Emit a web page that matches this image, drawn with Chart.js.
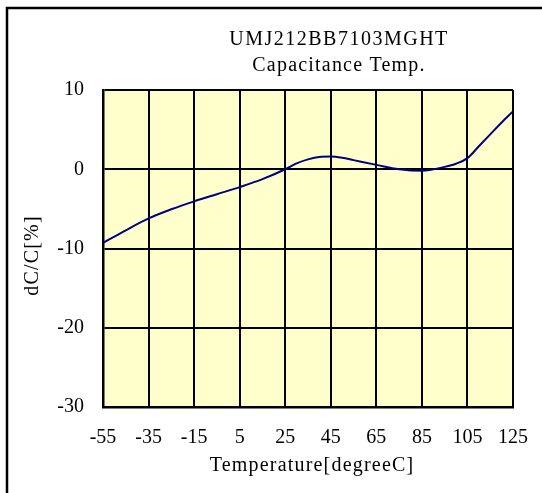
<!DOCTYPE html>
<html>
<head>
<meta charset="utf-8">
<script src="https://cdn.jsdelivr.net/npm/chart.js@4/dist/chart.umd.min.js"></script>
<style>
  html, body { margin: 0; padding: 0; background: #fff; }
  #wrap { width: 542px; height: 493px; position: relative; }
</style>
</head>
<body>
<div id="wrap"><canvas id="c" width="542" height="493"></canvas></div>
<script>
const titleLines = ["UMJ212BB7103MGHT", "Capacitance Temp."];
const xTitle = "Temperature[degreeC]";
const yTitle = "dC/C[%]";
const xTicks = [-55, -35, -15, 5, 25, 45, 65, 85, 105, 125];
const yTicks = [-30, -20, -10, 0, 10];
const temps = [-55, -45, -35, -25, -15, -5, 5, 15, 25, 30, 35, 40, 45, 50, 55, 65, 75, 85, 95, 100, 105, 110, 115, 120, 125];
const dcc =   [-9.3, -7.7, -6.2, -5.05, -4.05, -3.15, -2.25, -1.25, 0, 0.75, 1.25, 1.55, 1.6, 1.45, 1.15, 0.55, 0.0, -0.2, 0.3, 0.7, 1.4, 2.9, 4.4, 5.9, 7.3];

const FONT = "'Liberation Serif', 'Times New Roman', serif";

const framePlugin = {
  id: 'frame',
  beforeDraw(chart) {
    const ctx = chart.ctx;
    ctx.save();
    ctx.fillStyle = '#ffffff';
    ctx.fillRect(0, 0, chart.width, chart.height);
    ctx.strokeStyle = '#000000';
    ctx.lineWidth = 2.5;
    ctx.strokeRect(7, 8, 700, 700);
    const a = chart.chartArea;
    ctx.fillStyle = '#FFFFCC';
    ctx.fillRect(a.left, a.top, a.right - a.left, a.bottom - a.top);
    ctx.restore();
  },
  afterDraw(chart) {
    const ctx = chart.ctx;
    const a = chart.chartArea;
    ctx.save();
    ctx.fillStyle = '#000';
    ctx.font = '20px ' + FONT;
    ctx.textAlign = 'center';
    ctx.textBaseline = 'middle';
    ctx.letterSpacing = '1.5px';
    ctx.fillText(titleLines[0], 339, 40);
    ctx.letterSpacing = '1.2px';
    ctx.fillText(titleLines[1], 339, 66);
    ctx.fillText(xTitle, (a.left + a.right) / 2 + 4, 466);
    ctx.translate(33, (a.top + a.bottom) / 2 + 7);
    ctx.rotate(-Math.PI / 2);
    ctx.fillText(yTitle, 0, 0);
    ctx.restore();
  }
};

new Chart(document.getElementById('c'), {
  type: 'line',
  data: {
    datasets: [{
      data: temps.map((t, i) => ({ x: t, y: dcc[i] })),
      borderColor: '#000080',
      borderWidth: 2,
      pointRadius: 0,
      fill: false,
      cubicInterpolationMode: 'monotone'
    }]
  },
  options: {
    responsive: false,
    animation: false,
    devicePixelRatio: 1,
    layout: { padding: { left: 0, top: 90, right: 29, bottom: 0 } },
    plugins: { legend: { display: false }, title: { display: false }, tooltip: { enabled: false } },
    scales: {
      x: {
        type: 'linear',
        min: -55, max: 125,
        afterBuildTicks: s => { s.ticks = xTicks.map(v => ({ value: v })); },
        afterFit: s => { s.height = 86; s.paddingRight = 0; s.paddingLeft = 0; },
        grid: { color: '#000', lineWidth: 2, drawTicks: false },
        border: { color: '#000', width: 2.5 },
        ticks: { color: '#000', font: { family: FONT, size: 20 }, padding: 19, maxRotation: 0, autoSkip: false },
        title: { display: false }
      },
      y: {
        type: 'linear',
        min: -30, max: 10,
        afterBuildTicks: s => { s.ticks = yTicks.map(v => ({ value: v })); },
        afterFit: s => { s.width = 103; },
        grid: { color: '#000', lineWidth: 2, drawTicks: false },
        border: { color: '#000', width: 2.5 },
        ticks: { color: '#000', font: { family: FONT, size: 20 }, padding: 19 },
        title: { display: false }
      }
    }
  },
  plugins: [framePlugin]
});
</script>
</body>
</html>
